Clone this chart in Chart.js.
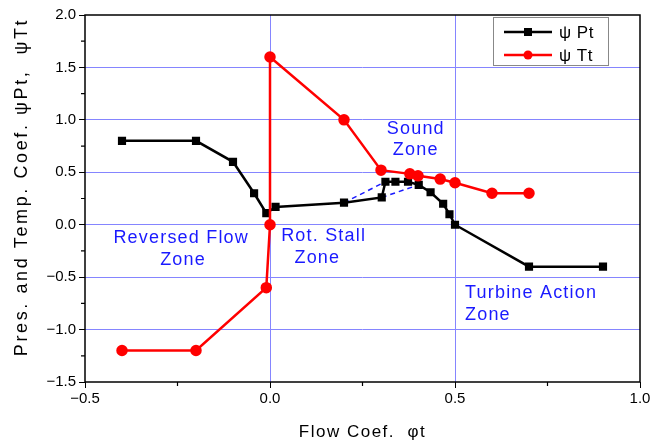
<!DOCTYPE html>
<html>
<head>
<meta charset="utf-8">
<script src="https://cdn.jsdelivr.net/npm/chart.js@4"></script>
<style>
    body { margin: 0; background: white; }
    #grafico-wrap { width: 655px; height: 445px; }
</style>
</head>
<body>
<div id="grafico-wrap"><canvas id="myChart"></canvas></div>
<script>
// Dados da curva psi Pt (quadrados pretos)
var ptX = [-0.40, -0.20, -0.10, -0.043, -0.01, 0.015, 0.20, 0.302, 0.312, 0.339, 0.373, 0.402, 0.434, 0.468, 0.485, 0.50, 0.70, 0.90];
var ptY = [0.80, 0.80, 0.60, 0.30, 0.11, 0.17, 0.21, 0.26, 0.41, 0.41, 0.41, 0.38, 0.31, 0.20, 0.10, 0.00, -0.40, -0.40];

// Dados da curva psi Tt (circulos vermelhos)
var ttX = [-0.40, -0.20, -0.01, 0.0, 0.0, 0.20, 0.30, 0.378, 0.40, 0.46, 0.50, 0.60, 0.70];
var ttY = [-1.20, -1.20, -0.60, 0.0, 1.60, 1.00, 0.52, 0.485, 0.466, 0.435, 0.40, 0.30, 0.30];

// Linhas tracejadas (histerese)
var hist1X = [0.20, 0.312];
var hist1Y = [0.21, 0.41];
var hist2X = [0.302, 0.402];
var hist2Y = [0.26, 0.38];

// Textos das zonas
var zonaTexto = ['Sound', 'Zone', 'Reversed Flow', 'Zone', 'Rot. Stall', 'Zone', 'Turbine Action', 'Zone'];
var zonaX = [0.394, 0.394, -0.24, -0.235, 0.145, 0.128, 0.527, 0.527];
var zonaY = [0.91, 0.71, -0.126, -0.337, -0.104, -0.315, -0.652, -0.866];
var zonaAlinha = ['center', 'center', 'center', 'center', 'center', 'center', 'left', 'left'];

// Ticks principais dos eixos
var xTicks = [-0.5, 0.0, 0.5, 1.0];
var yTicks = [-1.5, -1.0, -0.5, 0.0, 0.5, 1.0, 1.5, 2.0];

// Titulos dos eixos
var tituloX = 'Flow Coef.  \u03c6t';
var tituloY = 'Pres. and Temp. Coef. \u03c8Pt,  \u03c8Tt';

var fonte = '"Liberation Sans", Arial, "Noto Sans CJK JP", sans-serif';
var azulGrade = '#8585ff';

function pontos(xs, ys) {
    var arr = [];
    for (let i = 0; i < xs.length; i++) {
        arr.push({ x: xs[i], y: ys[i] });
    }
    return arr;
}

function ehPrincipal(v, lista) {
    return lista.some(function(t) { return Math.abs(t - v) < 1e-6; });
}

function formatar(v) {
    return v.toFixed(1).replace('-', '\u2212');
}

// Plugin para moldura, ticks menores, titulos, zonas e legenda
var extras = {
    id: 'extras',
    afterDraw: function(chart) {
        var ctx = chart.ctx;
        var a = chart.chartArea;
        var sx = chart.scales.x;
        var sy = chart.scales.y;

        ctx.save();
        // moldura
        ctx.strokeStyle = '#000';
        ctx.lineWidth = 1.5;
        ctx.strokeRect(a.left, a.top, a.right - a.left, a.bottom - a.top);

        // ticks menores
        ctx.lineWidth = 1.2;
        ctx.beginPath();
        for (let v = -0.25; v < 1.0; v += 0.5) {
            var px = sx.getPixelForValue(v);
            ctx.moveTo(px, a.bottom);
            ctx.lineTo(px, a.bottom + 4);
        }
        for (let v = -1.25; v < 2.0; v += 0.5) {
            var py = sy.getPixelForValue(v);
            ctx.moveTo(a.left, py);
            ctx.lineTo(a.left - 4, py);
        }
        ctx.stroke();

        // titulos dos eixos
        ctx.fillStyle = '#000';
        ctx.font = '17px ' + fonte;
        ctx.textAlign = 'center';
        ctx.textBaseline = 'middle';
        ctx.letterSpacing = '1.5px';
        ctx.fillText(tituloX, (a.left + a.right) / 2, 432);
        ctx.save();
        ctx.translate(22, 187);
        ctx.rotate(-Math.PI / 2);
        ctx.font = '18px ' + fonte;
        ctx.letterSpacing = '2.6px';
        ctx.fillText(tituloY, 0, 0);
        ctx.restore();

        // textos das zonas
        ctx.letterSpacing = '1.2px';
        ctx.fillStyle = '#1a1aff';
        ctx.font = '18px ' + fonte;
        for (let i = 0; i < zonaTexto.length; i++) {
            ctx.textAlign = zonaAlinha[i];
            ctx.fillText(zonaTexto[i], sx.getPixelForValue(zonaX[i]), sy.getPixelForValue(zonaY[i]));
        }

        // legenda
        var lx = 493, ly = 17, lw = 115, lh = 48;
        ctx.fillStyle = '#fff';
        ctx.fillRect(lx, ly, lw, lh);
        ctx.strokeStyle = '#888';
        ctx.lineWidth = 1;
        ctx.strokeRect(lx + 0.5, ly + 0.5, lw, lh);
        var itens = chart.data.datasets.filter(function(d) { return d.naLegenda; });
        for (let i = 0; i < itens.length; i++) {
            var d = itens[i];
            var yy = ly + 15 + i * 23;
            ctx.strokeStyle = d.borderColor;
            ctx.lineWidth = 2.5;
            ctx.beginPath();
            ctx.moveTo(lx + 11, yy);
            ctx.lineTo(lx + 59, yy);
            ctx.stroke();
            ctx.fillStyle = d.borderColor;
            if (d.pointStyle === 'rect') {
                ctx.fillRect(lx + 35 - 4, yy - 4, 8, 8);
            } else {
                ctx.beginPath();
                ctx.arc(lx + 35, yy, 4.5, 0, Math.PI * 2);
                ctx.fill();
            }
            ctx.fillStyle = '#000';
            ctx.textAlign = 'left';
            ctx.font = '17px ' + fonte;
            ctx.letterSpacing = '0.5px';
            ctx.fillText(d.label, lx + 66, yy + 1);
        }
        ctx.restore();
    }
};

var ctx = document.getElementById('myChart').getContext('2d');
var myChart = new Chart(ctx, {
    type: 'scatter',
    data: {
        datasets: [{
            label: '\u03c8 Pt',
            naLegenda: true,
            data: pontos(ptX, ptY),
            showLine: true,
            borderColor: '#000000',
            backgroundColor: '#000000',
            borderWidth: 2.5,
            pointStyle: 'rect',
            pointRadius: 4,
            order: 1
        }, {
            label: '\u03c8 Tt',
            naLegenda: true,
            data: pontos(ttX, ttY),
            showLine: true,
            borderColor: '#ff0000',
            backgroundColor: '#ff0000',
            borderWidth: 2.5,
            pointStyle: 'circle',
            pointRadius: 4.5,
            order: 0
        }, {
            label: 'hist1',
            data: pontos(hist1X, hist1Y),
            showLine: true,
            borderColor: '#1a1aff',
            borderWidth: 1.5,
            borderDash: [5, 4],
            pointRadius: 0,
            order: 2
        }, {
            label: 'hist2',
            data: pontos(hist2X, hist2Y),
            showLine: true,
            borderColor: '#1a1aff',
            borderWidth: 1.5,
            borderDash: [5, 4],
            pointRadius: 0,
            order: 2
        }]
    },
    options: {
        responsive: true,
        maintainAspectRatio: false,
        animation: false,
        layout: { padding: { left: 0, right: 15, top: 15, bottom: 0 } },
        plugins: {
            legend: { display: false },
            tooltip: { enabled: false }
        },
        scales: {
            x: {
                type: 'linear',
                min: -0.5,
                max: 1.0,
                afterFit: function(s) { s.height = 63; },
                ticks: {
                    stepSize: 0.25,
                    autoSkip: false,
                    maxRotation: 0,
                    padding: 2,
                    color: '#000',
                    font: { family: fonte, size: 15 },
                    callback: function(v) { return ehPrincipal(v, xTicks) ? formatar(v) : ''; }
                },
                grid: {
                    color: function(c) {
                        var v = c.tick ? c.tick.value : null;
                        return (v === 0 || v === 0.5) ? azulGrade : 'transparent';
                    },
                    tickColor: function(c) {
                        return c.tick && ehPrincipal(c.tick.value, xTicks) ? '#000' : 'transparent';
                    },
                    tickLength: 6,
                    lineWidth: 1
                },
                border: { display: false },
                title: { display: false }
            },
            y: {
                type: 'linear',
                min: -1.5,
                max: 2.0,
                afterFit: function(s) { s.width = 85; },
                ticks: {
                    stepSize: 0.25,
                    autoSkip: false,
                    padding: 3,
                    color: '#000',
                    font: { family: fonte, size: 15 },
                    callback: function(v) { return ehPrincipal(v, yTicks) ? formatar(v) : ''; }
                },
                grid: {
                    color: function(c) {
                        var v = c.tick ? c.tick.value : null;
                        return (v !== null && v > -1.4 && v < 1.9 && ehPrincipal(v, yTicks)) ? azulGrade : 'transparent';
                    },
                    tickColor: function(c) {
                        return c.tick && ehPrincipal(c.tick.value, yTicks) ? '#000' : 'transparent';
                    },
                    tickLength: 6,
                    lineWidth: 1
                },
                border: { display: false },
                title: { display: false }
            }
        }
    },
    plugins: [extras]
});
</script>
</body>
</html>
